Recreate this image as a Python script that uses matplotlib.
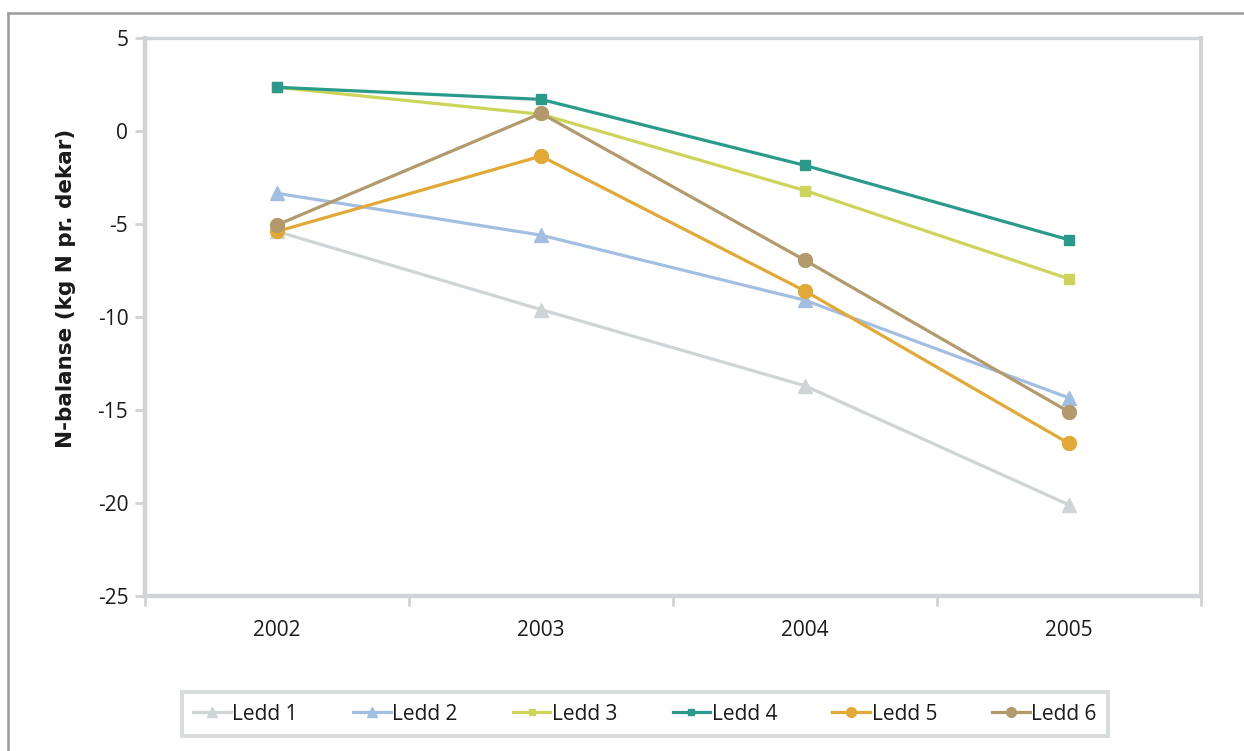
import matplotlib
matplotlib.use("Agg")
import matplotlib.pyplot as plt
from matplotlib.lines import Line2D

years = ["2002", "2003", "2004", "2005"]
series_names = ["Ledd 1", "Ledd 2", "Ledd 3", "Ledd 4", "Ledd 5", "Ledd 6"]
ledd1 = [-5.4, -9.6, -13.7, -20.1]
ledd2 = [-3.35, -5.6, -9.1, -14.35]
ledd3 = [2.35, 0.9, -3.2, -7.95]
ledd4 = [2.35, 1.7, -1.85, -5.85]
ledd5 = [-5.4, -1.35, -8.6, -16.8]
ledd6 = [-5.05, 0.95, -6.95, -15.1]
y_ticks = [5, 0, -5, -10, -15, -20, -25]

colors = ["#cfd4d6", "#a2bfe2", "#cdd45a", "#2a9a8a", "#e2a936", "#b29a6c"]
markers = ["^", "^", "s", "s", "o", "o"]
msizes = [10, 10, 7, 7, 10, 10]

W, H = 1244, 751
fig = plt.figure(figsize=(W / 100, H / 100), dpi=100)
fig.patch.set_facecolor("white")

# outer chart frame (top and left edges)
frame_col = "#9b9b9b"
fig.add_artist(Line2D([8 / W, 1.0], [1 - 13 / H, 1 - 13 / H], color=frame_col, lw=1.8,
                      transform=fig.transFigure))
fig.add_artist(Line2D([8 / W, 8 / W], [0, 1 - 13 / H], color=frame_col, lw=1.8,
                      transform=fig.transFigure))

ax = fig.add_axes([145 / W, 1 - 596 / H, (1201 - 145) / W, (596 - 38) / H])

x = list(range(len(years)))
all_series = [ledd1, ledd2, ledd3, ledd4, ledd5, ledd6]
for name, vals, c, m, ms in zip(series_names, all_series, colors, markers, msizes):
    ax.plot(x, vals, color=c, lw=2.3, marker=m, markersize=ms,
            markerfacecolor=c, markeredgecolor=c, label=name, clip_on=False)

ax.set_xlim(-0.5, 3.5)
ax.set_ylim(-25, 5)
ax.set_yticks(y_ticks)
ax.set_yticklabels([str(v) for v in y_ticks])

# category labels centred, tick marks on category boundaries
ax.set_xticks([-0.5, 0.5, 1.5, 2.5, 3.5])
ax.set_xticklabels([])
ax.set_xticks(x, minor=True)
ax.set_xticklabels(years, minor=True)
ax.tick_params(axis="x", which="minor", length=0, pad=17)
ax.tick_params(axis="x", which="major", length=7, width=2, color="#d0d4d6", direction="out")
ax.tick_params(axis="y", length=7, width=2, color="#d0d4d6", direction="out", pad=5)

font = "Open Sans"
for lab in ax.get_yticklabels() + ax.get_xticklabels(minor=True):
    lab.set_fontfamily(font)
    lab.set_fontsize(15)
    lab.set_color("#1a1a1a")

spine_col = "#d0d4d6"
ax.spines["left"].set_linewidth(3.2)
ax.spines["bottom"].set_linewidth(3.2)
ax.spines["top"].set_linewidth(2.4)
ax.spines["right"].set_linewidth(2.8)
for s in ax.spines.values():
    s.set_color(spine_col)

ax.set_ylabel("N-balanse (kg N pr. dekar)", fontsize=15.5, fontweight="bold",
              fontfamily="DejaVu Sans", color="#1a1a1a")
ax.yaxis.set_label_coords((76 - 145) / (1201 - 145), 1 - (288 - 38) / (596 - 38))

leg = ax.legend(loc="center", bbox_to_anchor=(645 / W, 1 - 714 / H),
                bbox_transform=fig.transFigure, ncol=6, frameon=True, fancybox=False,
                handlelength=1.8, handletextpad=0.08, columnspacing=2.65,
                borderpad=0.55, borderaxespad=0, markerscale=0.7,
                prop={"family": font, "size": 15})
leg.get_frame().set_edgecolor("#d0d4d6")
leg.get_frame().set_linewidth(2.8)
for t in leg.get_texts():
    t.set_color("#1a1a1a")

fig.savefig("out.png", dpi=100, facecolor="white")
